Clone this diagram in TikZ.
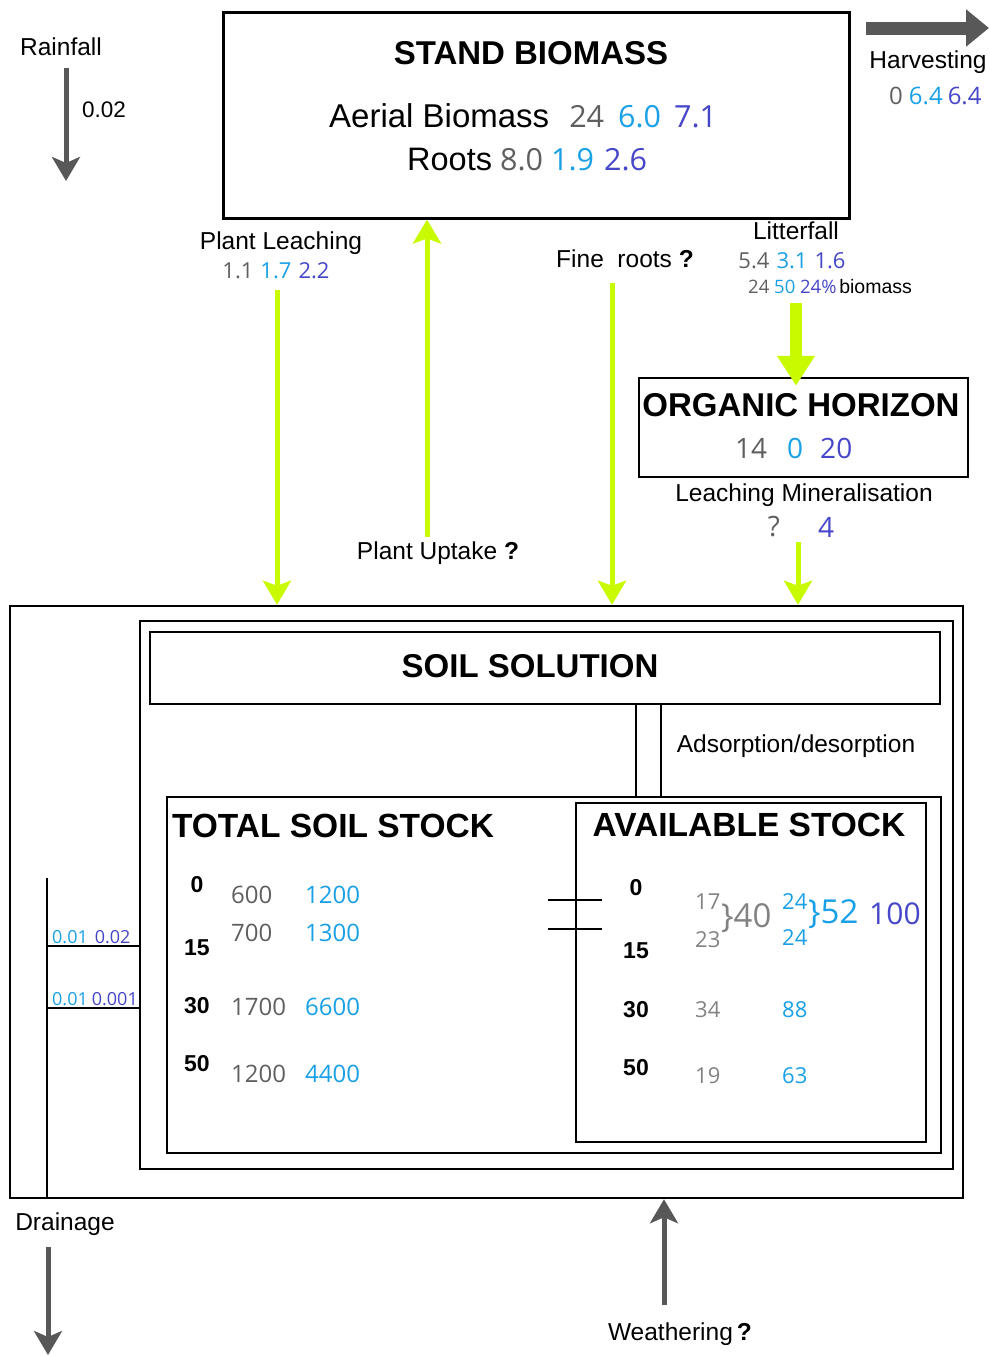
\documentclass[tikz,border=0pt]{standalone}
\usepackage{fontspec}
\setmainfont{Liberation Sans}
\newfontfamily\numfont{Open Sans}
\usetikzlibrary{arrows.meta}
\definecolor{numgray}{RGB}{95,95,95}
\definecolor{litegray}{RGB}{130,130,130}
\definecolor{skyblue}{RGB}{25,160,230}
\definecolor{deepblue}{RGB}{70,70,200}
\definecolor{limegreen}{RGB}{200,250,0}
\definecolor{arrowgray}{RGB}{88,88,88}
\newcommand{\setsz}[1]{\fontsize{#1}{#1}\selectfont}

\begin{document}
\begin{tikzpicture}[x=1pt,y=-1pt,
  every node/.style={inner sep=0pt},
  lbl/.style={font=\setsz{24.5}},
  ttl/.style={font=\setsz{33}\bfseries},
  depth/.style={font=\setsz{23}\bfseries},
  num/.style={font=\numfont\setsz{#1}},
  num/.default=24,
  box/.style={draw,line width=2.5pt},
  flow/.style={draw=limegreen,line width=5pt,-{Stealth[length=24pt,width=28pt,inset=5pt]}},
  grayflow/.style={draw=arrowgray,line width=5pt,-{Stealth[length=24pt,width=28pt,inset=6pt]}}]
  \useasboundingbox (0,0) rectangle (989,1355);

  % inputs and biomass
  \node[lbl] (rain) at (61,47) {Rainfall};
  \node[font=\setsz{22.5}] (rainval) at (104,110) {0.02};
  \coordinate (rainend) at (66,181);
  \draw[grayflow,shorten <=12pt] (rain.south -| rainend) -- (rainend);

  \node[box,line width=3pt,minimum width=626pt,minimum height=206pt] (stand) at (536,115) {};
  \node[ttl] (standttl) at (531,53) {STAND BIOMASS};
  \node[anchor=west,font=\setsz{33}] (aerial) at (329,116) {Aerial Biomass\hspace{20pt}{\numfont\setsz{30.5}\textcolor{numgray}{24}\hspace{14pt}\textcolor{skyblue}{6.0}\hspace{13pt}\textcolor{deepblue}{7.1}}};
  \node[anchor=west,font=\setsz{32.5}] (roots) at (407,160) {Roots\hspace{8pt}{\numfont\setsz{30.5}\textcolor{numgray}{8.0}\hspace{8pt}\textcolor{skyblue}{1.9}\hspace{10pt}\textcolor{deepblue}{2.6}}};

  \coordinate (harvA) at (866,28);
  \coordinate (harvB) at (989,28);
  \draw[draw=arrowgray,line width=13pt,-{Triangle[length=23pt,width=36pt]}] (harvA) -- (harvB);
  \node[lbl] (harv) at (928,62) {Harvesting};
  \node[num,anchor=west] (harvval) at (889,96) {\textcolor{numgray}{0}\hspace{6pt}\textcolor{skyblue}{6.4}\hspace{5pt}\textcolor{deepblue}{6.4}};

  % fluxes to the soil
  \node[lbl] (leach) at (281,243) {Plant Leaching};
  \node[num=22] (leachval) at (276,271) {\textcolor{numgray}{1.1}\hspace{7pt}\textcolor{skyblue}{1.7}\hspace{7pt}\textcolor{deepblue}{2.2}};
  \node[lbl] (uptake) at (438,553) {Plant Uptake \textbf{?}};
  \node[lbl] (fine) at (625,259) {Fine\ \ roots \textbf{?}};
  \node[lbl] (litter) at (796,231) {Litterfall};
  \node[num=22] (litterval) at (792,261) {\textcolor{numgray}{5.4}\hspace{7pt}\textcolor{skyblue}{3.1}\hspace{7pt}\textcolor{deepblue}{1.6}};
  \node[anchor=west] (litterpct) at (748,287) {{\numfont\setsz{18.5}\textcolor{numgray}{24} \textcolor{skyblue}{50} \textcolor{deepblue}{24\%}} \setsz{19.5}biomass};

  \node[box,minimum width=329pt,minimum height=99pt] (organic) at (803.5,427.5) {};
  \node[ttl] (organicttl) at (801,405) {ORGANIC HORIZON};
  \node[num=28,anchor=west] (organicval) at (735,448) {\textcolor{numgray}{14}\hspace{20pt}\textcolor{skyblue}{0}\hspace{17pt}\textcolor{deepblue}{20}};
  \node[lbl] (minlbl) at (804,495) {Leaching Mineralisation};
  \node[num=28,text=numgray] (minq) at (774,527) {?};
  \node[num=28,text=deepblue] (minval) at (826,527) {4};

  % soil compartments
  \node[box,minimum width=953pt,minimum height=592pt] (outer) at (486.5,902) {};
  \node[box,minimum width=813pt,minimum height=548pt] (soilmid) at (546.5,895) {};
  \node[box,minimum width=790pt,minimum height=72pt] (solution) at (545,668) {};
  \node[ttl] (solutionttl) at (530,666) {SOIL SOLUTION};
  \node[box,minimum width=774pt,minimum height=356pt] (total) at (554,975) {};
  \node[box,minimum width=350pt,minimum height=339pt] (avail) at (751,972.5) {};
  \node[ttl,font=\setsz{33.5}\bfseries] (totalttl) at (333,826) {TOTAL SOIL STOCK};
  \node[ttl,font=\setsz{33.5}\bfseries] (availttl) at (749,825) {AVAILABLE STOCK};

  \coordinate (leachtop) at (277,290);
  \draw[flow] (leachtop) -- (leachtop |- outer.north);
  \coordinate (uptop) at (427,537);
  \draw[flow] (uptop) -- (uptop |- stand.south);
  \coordinate (finetop) at (612,283);
  \draw[flow] (finetop) -- (finetop |- outer.north);
  \coordinate (littertop) at (796,303);
  \draw[draw=limegreen,line width=12pt,-{Triangle[length=30pt,width=36pt]},shorten >=-9pt] (littertop) -- (littertop |- organic.north);
  \coordinate (mintop) at (798,542);
  \draw[flow] (mintop) -- (mintop |- outer.north);

  \coordinate (adsL) at (636,750);
  \coordinate (adsR) at (661,750);
  \draw[line width=2.5pt] (adsL |- solution.south) -- (adsL |- total.north);
  \draw[line width=2.5pt] (adsR |- solution.south) -- (adsR |- total.north);
  \node[lbl] (ads) at (796,746) {Adsorption/desorption};

  \draw[line width=2.5pt] (548,900) -- (602,900);
  \draw[line width=2.5pt] (548,929) -- (602,929);

  % depth profiles
  \foreach \d/\y in {0/885,15/948,30/1006,50/1064}
    \node[depth] (tdepth\d) at (197,\y) {\d};
  \foreach \d/\y in {0/888,15/951,30/1010,50/1068}
    \node[depth] (adepth\d) at (636,\y) {\d};
  \foreach \n/\a/\b/\y in {a/600/1200/895,b/700/1300/933,c/1700/6600/1007,d/1200/4400/1074}{
    \node[num,anchor=west,text=numgray] (tot\n) at (231,\y) {\a};
    \node[num,anchor=west,text=skyblue] (totb\n) at (305,\y) {\b};
  }
  \node[num=22,anchor=west,text=litegray] (av17) at (695,902) {17};
  \node[num=22,anchor=west,text=litegray] (av23) at (695,940) {23};
  \node[num=33,anchor=west,text=litegray] (av40) at (721,918) {\}40};
  \node[num=22,anchor=west,text=skyblue] (av24a) at (782,902) {24};
  \node[num=22,anchor=west,text=skyblue] (av24b) at (782,938) {24};
  \node[num=33,anchor=west,text=skyblue] (av52) at (808,914) {\}52};
  \node[num=30,anchor=west,text=deepblue] (av100) at (869,914) {100};
  \node[num=22,anchor=west,text=litegray] (av34) at (695,1010) {34};
  \node[num=22,anchor=west,text=skyblue] (av88) at (782,1010) {88};
  \node[num=22,anchor=west,text=litegray] (av19) at (695,1076) {19};
  \node[num=22,anchor=west,text=skyblue] (av63) at (782,1076) {63};

  % drainage and weathering
  \coordinate (ladtop) at (47,878);
  \draw[line width=2.5pt] (ladtop) -- (ladtop |- outer.south);
  \coordinate (rungA) at (47,946);
  \coordinate (rungB) at (47,1008);
  \draw[line width=2.5pt] (rungA) -- (rungA -| soilmid.west);
  \draw[line width=2.5pt] (rungB) -- (rungB -| soilmid.west);
  \node[num=18,anchor=south west] (rungAval) at (52,944) {\textcolor{skyblue}{0.01}\hspace{7pt}\textcolor{deepblue}{0.02}};
  \node[num=18,anchor=south west] (rungBval) at (52,1006) {\textcolor{skyblue}{0.01}\hspace{4pt}\textcolor{deepblue}{0.001}};

  \node[lbl] (drain) at (65,1224) {Drainage};
  \coordinate (draintop) at (48,1247);
  \draw[grayflow] (draintop) -- ++(0,108);
  \node[lbl] (weather) at (680,1334) {Weathering\,\textbf{?}};
  \coordinate (weatherfoot) at (664,1305);
  \draw[grayflow] (weatherfoot) -- (weatherfoot |- outer.south);
\end{tikzpicture}
\end{document}
